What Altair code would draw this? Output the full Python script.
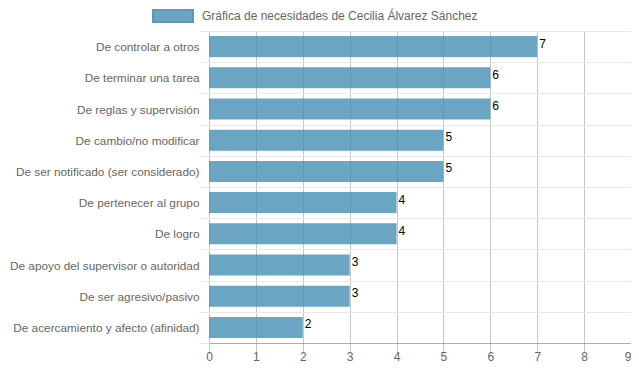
import altair as alt
import pandas as pd

categories = [
    "De controlar a otros",
    "De terminar una tarea",
    "De reglas y supervisión",
    "De cambio/no modificar",
    "De ser notificado (ser considerado)",
    "De pertenecer al grupo",
    "De logro",
    "De apoyo del supervisor o autoridad",
    "De ser agresivo/pasivo",
    "De acercamiento y afecto (afinidad)",
]
values = [7, 6, 6, 5, 5, 4, 4, 3, 3, 2]
series_name = "Gráfica de necesidades de Cecilia Álvarez Sánchez"
x_ticks = [0, 1, 2, 3, 4, 5, 6, 7, 8, 9]

df = pd.DataFrame({"cat": categories, "val": values, "serie": [series_name] * len(values)})

FONT = "Liberation Sans"
y_enc = alt.Y(
    "cat:N",
    sort=categories,
    title=None,
    scale=alt.Scale(paddingInner=0, paddingOuter=0),
    axis=alt.Axis(
        tickBand="extent",
        grid=True,
        gridColor="#e8e8e8",
        tickColor="#e8e8e8",
        tickSize=10,
        domain=False,
        labelPadding=0,
        labelColor="#666666",
        labelFontSize=11.8,
        labelFont=FONT,
        labelLimit=300,
    ),
)

x_enc = alt.X(
    "val:Q",
    title=None,
    scale=alt.Scale(domain=[0, 9], nice=False),
    axis=alt.Axis(
        values=x_ticks,
        grid=True,
        gridColor="#000000",
        gridOpacity=0.22,
        tickColor="#000000",
        tickOpacity=0.22,
        tickSize=10,
        domain=True,
        domainColor="#000000",
        domainOpacity=0.25,
        labelPadding=-2,
        labelColor="#666666",
        labelFontSize=12,
        labelFont=FONT,
        labelAlign=alt.ExprRef(expr="datum.value == 9 ? 'right' : 'center'"),
        format="d",
    ),
)

bars = alt.Chart(df).mark_bar(size=21, opacity=0.8).encode(
    x=x_enc,
    y=y_enc,
    color=alt.Color(
        "serie:N",
        scale=alt.Scale(range=["#4590b5"]),
        legend=alt.Legend(
            title=None,
            orient="none",
            legendX=-57,
            legendY=-36,
            padding=0,
            symbolType="M-1,-0.3H1V0.3H-1Z",
            symbolSize=1600,
            symbolStrokeColor="#3a7ea8",
            symbolStrokeWidth=2,
            symbolOpacity=0.8,
            labelOffset=8,
            labelColor="#666666",
            labelFontSize=12,
            labelFont=FONT,
            labelLimit=400,
        ),
    ),
)

labels = alt.Chart(df).mark_text(
    align="left", baseline="middle", dx=2, dy=-3, fontSize=12, font=FONT, color="#000000"
).encode(x="val:Q", y=alt.Y("cat:N", sort=categories), text="val:Q")

chart = (
    alt.layer(bars, labels)
    .properties(
        width=422,
        height=312,
        autosize=alt.AutoSizeParams(type="none"),
        padding={"left": 201, "top": 23, "right": 0, "bottom": 21},
    )
    .configure_view(stroke=None)
)

chart.save("out.html", embed_options={"renderer": "svg", "actions": False})
